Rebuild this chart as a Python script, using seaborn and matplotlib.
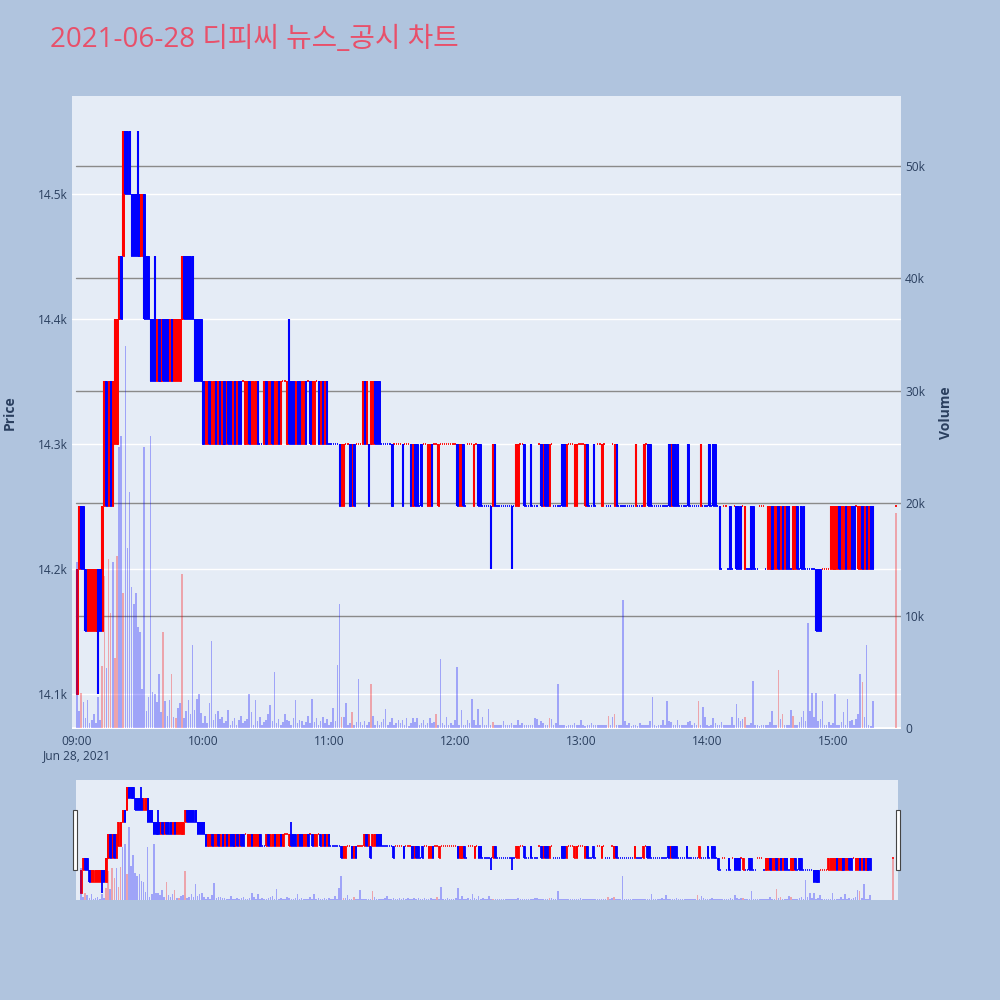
import matplotlib
matplotlib.use("Agg")
import matplotlib.pyplot as plt
import matplotlib.transforms as mtransforms
from matplotlib.patches import Rectangle
import seaborn as sns
import pandas as pd

# === Données ===
title = "2021-06-28 디피씨 뉴스_공시 차트"

minutes = list(range(380)) + [390]

opens = [
    14100, 14200, 14250, 14250, 14200, 14150, 14150, 14150, 14150, 14150,
    14200, 14200, 14150, 14250, 14350, 14250, 14350, 14250, 14300, 14300,
    14400, 14450, 14450, 14550, 14550, 14550, 14500, 14500, 14500, 14500,
    14450, 14450, 14500, 14450, 14450, 14400, 14400, 14400, 14350, 14400,
    14350, 14400, 14400, 14400, 14350, 14400, 14350, 14350, 14350, 14350,
    14400, 14450, 14450, 14450, 14450, 14450, 14400, 14400, 14400, 14400,
    14350, 14300, 14300, 14350, 14300, 14300, 14350, 14300, 14350, 14300,
    14350, 14300, 14350, 14350, 14300, 14350, 14300, 14350, 14350, 14350,
    14300, 14300, 14350, 14300, 14300, 14300, 14350, 14300, 14300, 14300,
    14350, 14300, 14300, 14350, 14300, 14300, 14350, 14300, 14350, 14350,
    14300, 14350, 14350, 14350, 14300, 14350, 14350, 14300, 14300, 14350,
    14350, 14350, 14300, 14300, 14350, 14350, 14300, 14350, 14300, 14350,
    14300, 14300, 14300, 14300, 14300, 14300, 14250, 14250, 14300, 14300,
    14300, 14250, 14300, 14300, 14300, 14300, 14300, 14350, 14300, 14300,
    14300, 14300, 14350, 14350, 14350, 14300, 14300, 14300, 14300, 14300,
    14300, 14300, 14300, 14300, 14300, 14300, 14300, 14300, 14300, 14300,
    14250, 14300, 14300, 14250, 14300, 14300, 14300, 14250, 14250, 14300,
    14300, 14300, 14250, 14300, 14300, 14300, 14300, 14300, 14300, 14300,
    14300, 14300, 14250, 14250, 14300, 14250, 14300, 14300, 14300, 14250,
    14300, 14300, 14300, 14250, 14250, 14250, 14250, 14250, 14250, 14300,
    14250, 14250, 14250, 14250, 14250, 14250, 14250, 14250, 14250, 14250,
    14250, 14300, 14300, 14300, 14250, 14250, 14300, 14250, 14250, 14250,
    14300, 14300, 14250, 14300, 14300, 14250, 14300, 14250, 14250, 14250,
    14250, 14300, 14300, 14250, 14300, 14300, 14300, 14250, 14250, 14300,
    14300, 14300, 14250, 14300, 14250, 14250, 14300, 14250, 14300, 14300,
    14250, 14300, 14250, 14250, 14250, 14300, 14250, 14300, 14250, 14250,
    14250, 14250, 14250, 14250, 14250, 14250, 14250, 14250, 14250, 14250,
    14250, 14300, 14300, 14300, 14250, 14250, 14250, 14250, 14250, 14250,
    14250, 14250, 14300, 14250, 14300, 14300, 14300, 14250, 14250, 14250,
    14250, 14300, 14250, 14250, 14250, 14250, 14250, 14250, 14250, 14250,
    14250, 14300, 14250, 14300, 14300, 14250, 14250, 14200, 14250, 14250,
    14200, 14250, 14200, 14250, 14250, 14250, 14250, 14250, 14200, 14200,
    14200, 14250, 14250, 14200, 14200, 14250, 14250, 14250, 14200, 14200,
    14200, 14250, 14200, 14200, 14250, 14200, 14250, 14200, 14250, 14250,
    14200, 14200, 14200, 14250, 14200, 14250, 14250, 14200, 14200, 14200,
    14200, 14200, 14200, 14200, 14200, 14200, 14200, 14200, 14200, 14200,
    14200, 14200, 14200, 14250, 14200, 14200, 14250, 14200, 14200, 14250,
    14250, 14250, 14200, 14200, 14250, 14200, 14250, 14200, 14250, 14250,
    14250,
]

closes = [
    14200, 14250, 14200, 14200, 14150, 14200, 14200, 14200, 14200, 14200,
    14150, 14150, 14250, 14350, 14250, 14350, 14250, 14350, 14400, 14400,
    14450, 14400, 14550, 14500, 14500, 14500, 14450, 14450, 14450, 14450,
    14500, 14500, 14400, 14400, 14400, 14350, 14350, 14350, 14400, 14350,
    14400, 14350, 14350, 14350, 14400, 14350, 14400, 14400, 14400, 14400,
    14450, 14400, 14400, 14400, 14400, 14400, 14350, 14350, 14350, 14350,
    14300, 14350, 14350, 14300, 14350, 14350, 14300, 14350, 14300, 14350,
    14300, 14350, 14300, 14300, 14350, 14300, 14350, 14300, 14300, 14350,
    14350, 14350, 14300, 14350, 14350, 14350, 14300, 14300, 14300, 14350,
    14300, 14350, 14350, 14300, 14350, 14350, 14300, 14350, 14350, 14350,
    14350, 14300, 14300, 14300, 14350, 14300, 14300, 14350, 14350, 14300,
    14350, 14300, 14350, 14350, 14350, 14300, 14350, 14300, 14350, 14300,
    14300, 14300, 14300, 14300, 14300, 14250, 14300, 14300, 14300, 14300,
    14250, 14300, 14250, 14300, 14300, 14300, 14350, 14300, 14350, 14250,
    14350, 14350, 14300, 14300, 14300, 14300, 14300, 14300, 14300, 14300,
    14250, 14300, 14300, 14300, 14300, 14250, 14300, 14300, 14300, 14250,
    14300, 14250, 14250, 14250, 14250, 14300, 14300, 14300, 14300, 14250,
    14300, 14300, 14300, 14300, 14300, 14300, 14300, 14300, 14300, 14300,
    14300, 14250, 14300, 14300, 14250, 14250, 14300, 14300, 14300, 14300,
    14300, 14250, 14250, 14250, 14250, 14250, 14250, 14250, 14300, 14250,
    14250, 14250, 14250, 14250, 14250, 14250, 14250, 14250, 14250, 14300,
    14300, 14300, 14300, 14250, 14250, 14250, 14250, 14250, 14250, 14250,
    14300, 14250, 14300, 14250, 14250, 14300, 14300, 14250, 14250, 14250,
    14250, 14250, 14250, 14300, 14300, 14300, 14300, 14300, 14300, 14300,
    14300, 14300, 14300, 14250, 14250, 14250, 14250, 14250, 14300, 14300,
    14300, 14300, 14250, 14250, 14250, 14300, 14300, 14250, 14250, 14250,
    14250, 14250, 14250, 14250, 14250, 14250, 14300, 14250, 14250, 14250,
    14300, 14300, 14250, 14250, 14250, 14250, 14250, 14250, 14250, 14250,
    14250, 14250, 14250, 14300, 14250, 14250, 14250, 14250, 14250, 14250,
    14250, 14250, 14250, 14250, 14250, 14250, 14250, 14300, 14250, 14250,
    14250, 14250, 14250, 14250, 14250, 14250, 14200, 14200, 14250, 14250,
    14200, 14200, 14200, 14250, 14200, 14200, 14200, 14250, 14250, 14200,
    14200, 14200, 14200, 14200, 14200, 14250, 14250, 14250, 14200, 14250,
    14250, 14200, 14250, 14250, 14200, 14250, 14200, 14250, 14200, 14200,
    14200, 14250, 14250, 14200, 14200, 14200, 14200, 14200, 14200, 14200,
    14200, 14200, 14150, 14150, 14150, 14200, 14200, 14200, 14200, 14250,
    14250, 14250, 14250, 14200, 14250, 14250, 14200, 14250, 14250, 14200,
    14200, 14250, 14250, 14250, 14200, 14250, 14200, 14250, 14200, 14200,
    14250,
]

# mèches qui dépassent le corps
high_wicks = {29: 14550, 37: 14450, 101: 14400}
low_wicks = {10: 14100, 197: 14200, 207: 14200}

volumes = [
    14800, 1500, 3100, 2300, 900, 2500, 400, 700, 1200, 400,
    2800, 700, 5500, 13500, 5300, 15000, 10200, 14800, 6200, 15300,
    25000, 26000, 12000, 34000, 16000, 21000, 12500, 11000, 12000, 9000,
    8500, 3500, 25000, 1500, 2800, 26000, 3200, 3000, 2300, 4800,
    1400, 8500, 2400, 1100, 2500, 4800, 1000, 900, 1800, 2200,
    13700, 900, 1500, 2500, 1200, 7400, 1600, 2600, 3000, 1300,
    400, 1100, 400, 2200, 7700, 700, 1200, 1500, 800, 1000,
    400, 600, 1600, 300, 600, 900, 300, 700, 1100, 400,
    600, 800, 3000, 1400, 300, 2500, 600, 1000, 300, 500,
    700, 1200, 2000, 600, 5000, 400, 800, 300, 500, 1200,
    700, 600, 300, 900, 2500, 400, 700, 600, 300, 500,
    1100, 400, 2600, 500, 900, 300, 600, 1000, 400, 800,
    300, 500, 1800, 600, 5600, 11000, 1000, 1000, 2200, 300,
    400, 1400, 300, 500, 4400, 500, 300, 600, 300, 500,
    3900, 1100, 300, 600, 300, 500, 800, 1700, 300, 500,
    900, 300, 400, 700, 400, 700, 300, 900, 200, 400,
    900, 500, 900, 300, 400, 700, 300, 400, 900, 400,
    500, 1200, 300, 6100, 400, 300, 1000, 300, 400, 300,
    700, 5400, 300, 1600, 300, 300, 700, 400, 2600, 700,
    300, 1700, 300, 1000, 300, 300, 1700, 300, 500, 300,
    300, 300, 300, 600, 300, 300, 300, 400, 300, 300,
    700, 300, 400, 300, 300, 300, 300, 300, 900, 800,
    300, 600, 400, 300, 300, 900, 800, 300, 400, 3900,
    300, 300, 300, 200, 300, 300, 300, 400, 300, 300,
    700, 300, 200, 300, 300, 400, 300, 300, 300, 300,
    300, 300, 300, 1100, 300, 1000, 1200, 300, 300, 300,
    11400, 600, 300, 400, 200, 300, 300, 200, 400, 300,
    300, 300, 300, 600, 2800, 300, 200, 300, 300, 700,
    300, 2400, 600, 500, 300, 300, 700, 300, 300, 300,
    300, 500, 600, 300, 400, 300, 2400, 300, 1900, 1000,
    300, 200, 300, 900, 400, 300, 300, 500, 300, 300,
    300, 300, 1000, 300, 2100, 900, 600, 800, 1000, 300,
    300, 400, 4200, 300, 300, 200, 300, 300, 300, 300,
    500, 1500, 300, 300, 5200, 800, 1200, 300, 300, 300,
    1600, 1100, 300, 300, 500, 1000, 1500, 600, 9300, 1500,
    3100, 1000, 3100, 600, 800, 2400, 300, 300, 500, 300,
    400, 3000, 300, 300, 500, 1400, 300, 2600, 600, 700,
    300, 800, 1200, 4800, 4100, 1000, 7400, 300, 200, 2400,
    19100,
]
red_volume_minutes = [2, 12, 13, 15, 16, 18, 19, 22, 41, 45, 47, 50, 126, 131,
                      140, 171, 198, 225, 253, 256, 296, 318, 334, 336, 341,
                      374, 390]

price_ticks = [14100, 14200, 14300, 14400, 14500]
price_labels = ["14.1k", "14.2k", "14.3k", "14.4k", "14.5k"]
vol_ticks = [0, 10000, 20000, 30000, 40000, 50000]
vol_labels = ["0", "10k", "20k", "30k", "40k", "50k"]
time_ticks = [0, 60, 120, 180, 240, 300, 360]
time_labels = ["09:00\nJun 28, 2021", "10:00", "11:00", "12:00", "13:00", "14:00", "15:00"]

# === Style ===
sns.set_theme(style="white")
plt.rcParams["font.family"] = ["Open Sans", "Noto Sans CJK KR", "DejaVu Sans"]

page_bg = "#B0C4DE"
plot_bg = "#E5ECF6"
text_col = "#2a3f5f"
up_col, down_col = "#FF0000", "#0000FF"

df = pd.DataFrame({"minute": minutes, "open": opens, "close": closes, "volume": volumes})
df["body_lo"] = df[["open", "close"]].min(axis=1)
df["high"] = df[["open", "close"]].max(axis=1)
df["low"] = df["body_lo"]
for m, p in high_wicks.items():
    df.loc[df.minute == m, "high"] = p
for m, p in low_wicks.items():
    df.loc[df.minute == m, "low"] = p

# sens de la bougie comme plotly (doji : comparé à la clôture précédente)
dirs = []
prev_close, prev_dir = None, "down"
for o, c in zip(opens, closes):
    if c > o:
        d = "up"
    elif c < o:
        d = "down"
    elif prev_close is not None and c != prev_close:
        d = "up" if c > prev_close else "down"
    else:
        d = prev_dir
    dirs.append(d)
    prev_close, prev_dir = c, d
df["dir"] = dirs
df["vol_dir"] = ["up" if m in red_volume_minutes else "down" for m in minutes]

x_lim = (-2.4, 392.4)
price_lim = (14072, 14578)
vol_lim = (-90, 56200)


def draw_candles(ax, body_lw, wick_lw, doji_lw):
    for d, col in (("up", up_col), ("down", down_col)):
        sub = df[df.dir == d]
        wick = sub[sub.high > sub.low]
        ax.vlines(wick.minute, wick.low, wick.high, color=col, lw=wick_lw, zorder=3)
        body = sub[sub.open != sub.close]
        ax.bar(body.minute, (body.close - body.open).abs(), bottom=body.body_lo,
               width=0.55, color=col, edgecolor=col, linewidth=body_lw, zorder=3)
        doji = sub[sub.open == sub.close]
        ax.hlines(doji.close, doji.minute - 0.3, doji.minute + 0.3, color=col, lw=doji_lw, zorder=3)


def draw_volume(axv):
    sns.histplot(data=df, x="minute", weights="volume", hue="vol_dir", hue_order=["up", "down"],
                 palette={"up": up_col, "down": down_col}, discrete=True, shrink=0.75,
                 alpha=0.3, linewidth=0, legend=False, ax=axv)
    axv.set_ylim(*vol_lim)
    axv.set_xlabel("")
    axv.set_ylabel("")


fig = plt.figure(figsize=(10, 10), dpi=100, facecolor=page_bg)

# === Graphique principal ===
ax = fig.add_axes([0.072, 0.271, 0.829, 0.633])
ax.set_facecolor(plot_bg)
axv = ax.twinx()
draw_volume(axv)

ax.grid(axis="y", color="white", lw=1.0)
ax.set_axisbelow(True)
vtrans = mtransforms.blended_transform_factory(ax.transAxes, axv.transData)
for v in vol_ticks[1:]:
    ax.plot([0.005, 1], [v, v], transform=vtrans, color="#8a8a8a", lw=1.0, zorder=1)
ax.plot([0, 1], [0, 0], transform=vtrans, color="white", lw=2.0, zorder=1)
draw_candles(ax, body_lw=0.7, wick_lw=1.5, doji_lw=1.3)
ax.set_xlim(*x_lim)
ax.set_ylim(*price_lim)

ax.set_yticks(price_ticks, price_labels)
ax.set_xticks(time_ticks, time_labels)
axv.set_yticks(vol_ticks, vol_labels)
axv.set_xlim(*x_lim)
ax.tick_params(axis="y", length=0, pad=3, labelsize=8.6, labelcolor=text_col)
ax.tick_params(axis="x", length=0, pad=4, labelsize=8.6, labelcolor=text_col)
axv.tick_params(axis="y", length=0, pad=3, labelsize=8.6, labelcolor=text_col)
for a in (ax, axv):
    for s in a.spines.values():
        s.set_visible(False)
    a.grid(False, axis="x")
axv.grid(False)

# === Range slider ===
sl = fig.add_axes([0.076, 0.100, 0.822, 0.120])
sl.set_facecolor(plot_bg)
slv = sl.twinx()
draw_volume(slv)
draw_candles(sl, body_lw=0.6, wick_lw=1.3, doji_lw=1.2)
sl.set_xlim(*x_lim)
sl.set_ylim(*price_lim)
slv.set_xlim(*x_lim)
for a in (sl, slv):
    a.set_xticks([])
    a.set_yticks([])
    a.grid(False)
    for s in a.spines.values():
        s.set_visible(False)
for hx in (0.073, 0.896):
    fig.add_artist(Rectangle((hx, 0.13), 0.004, 0.06, transform=fig.transFigure,
                             facecolor="white", edgecolor="#444444", lw=0.8))

# === Textes ===
fig.text(0.05, 0.960, title, fontsize=20, color="#E8506A", va="center", ha="left",
         family=["Open Sans", "Noto Sans CJK KR", "DejaVu Sans"])
fig.text(0.010, 0.587, "Price", rotation=90, fontsize=10, fontweight="bold",
         color=text_col, va="center", ha="center")
fig.text(0.946, 0.587, "Volume", rotation=90, fontsize=10, fontweight="bold",
         color=text_col, va="center", ha="center")

fig.savefig("out.png", dpi=100, facecolor=page_bg)
